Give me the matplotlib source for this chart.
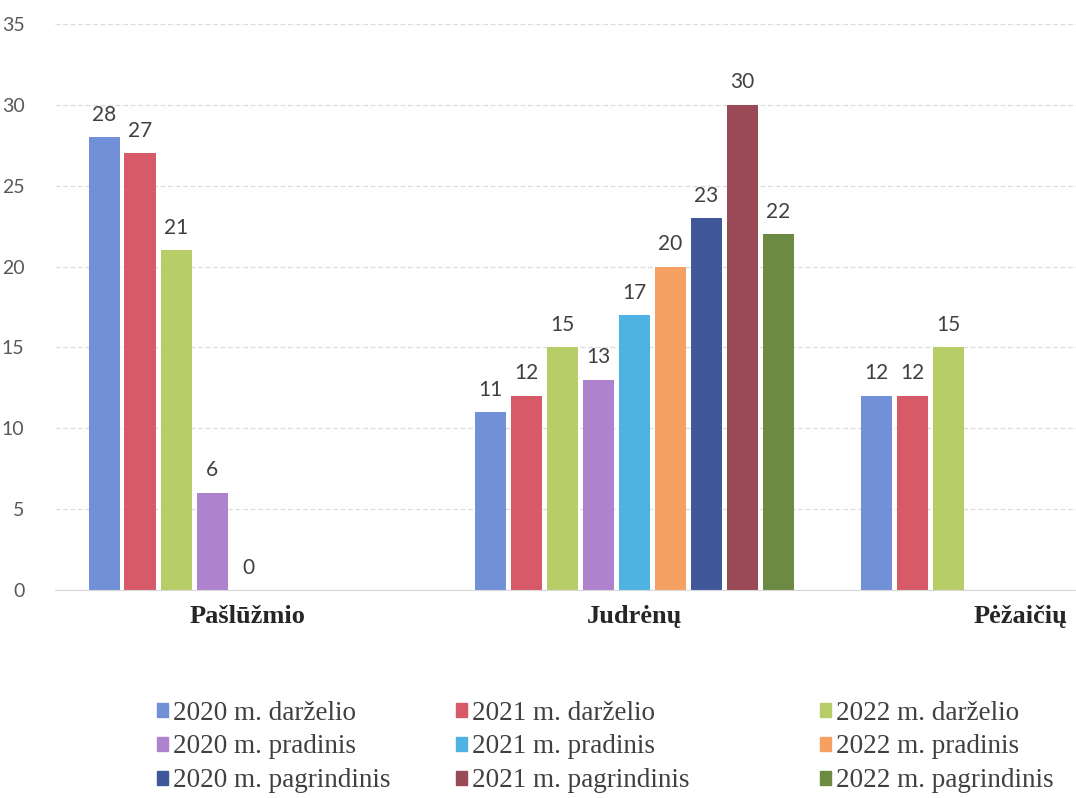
import numpy as np
import matplotlib.pyplot as plt
from matplotlib.patches import Patch

# data
villages = ['Pašlūžmio', 'Judrėnų', 'Pėžaičių']
series = ['2020 m. darželio', '2021 m. darželio', '2022 m. darželio',
          '2020 m. pradinis', '2021 m. pradinis', '2022 m. pradinis',
          '2020 m. pagrindinis', '2021 m. pagrindinis', '2022 m. pagrindinis']
colors = ['#7190d8', '#d65a68', '#b6cd68',
          '#ae82cc', '#4eb2e2', '#f6a064',
          '#40589a', '#994a56', '#6d8a42']
nan = np.nan
d2020_darz = [28, 11, 12]
d2021_darz = [27, 12, 12]
d2022_darz = [21, 15, 15]
d2020_prad = [6, 13, nan]
d2021_prad = [0, 17, nan]
d2022_prad = [nan, 20, nan]
d2020_pagr = [nan, 23, nan]
d2021_pagr = [nan, 30, nan]
d2022_pagr = [nan, 22, nan]
values = [d2020_darz, d2021_darz, d2022_darz,
          d2020_prad, d2021_prad, d2022_prad,
          d2020_pagr, d2021_pagr, d2022_pagr]

W, H = 1076, 798
fig = plt.figure(figsize=(W / 100, H / 100), dpi=100)
# axes runs past the right edge, as in the cropped scan
ax = fig.add_axes([55 / W, (H - 590) / H, 1158 / W, 566 / H])

x = np.arange(len(villages))
slot = 36 / 386
bw = 31 / 386
for i, (name, vals, c) in enumerate(zip(series, values, colors)):
    pos = x - 4 * slot + i * slot
    v = np.array(vals, dtype=float)
    ax.bar(pos, np.nan_to_num(v), bw, color=c, label=name)
    for p, val in zip(pos, v):
        if not np.isnan(val):
            ax.annotate(f'{int(val)}', (p, val), xytext=(0, 9), textcoords='offset points',
                        ha='center', va='bottom', fontsize=15, color='#404040',
                        family=['Lato', 'DejaVu Sans'])

ax.set_xlim(-0.5, 2.5)
ax.set_ylim(0, 35)
ax.set_yticks(range(0, 36, 5))
ax.set_xticks(x)
ax.set_xticklabels(villages, fontsize=19, fontweight='bold', color='#262626',
                   family='Liberation Serif')
ax.tick_params(axis='x', length=0, pad=11)
ax.tick_params(axis='y', length=0, pad=22, labelsize=14, labelcolor='#595959')
for t in ax.get_yticklabels():
    t.set_family(['Lato', 'DejaVu Sans'])
ax.grid(axis='y', color='#dcdcdc', linewidth=0.9, linestyle=(0, (4, 2)))
ax.set_axisbelow(True)
for s in ['top', 'right', 'left']:
    ax.spines[s].set_visible(False)
ax.spines['bottom'].set_color('#d8d8d8')

# legend: three columns placed by hand
col_x = [143, 442, 806]
for k in range(3):
    idx = [k, k + 3, k + 6]
    handles = [Patch(color=colors[j]) for j in idx]
    fig.legend(handles, [series[j] for j in idx], loc='upper left',
               bbox_to_anchor=(col_x[k] / W, 1 - 687 / H), frameon=False,
               borderpad=0, handlelength=0.42, handleheight=0.42, handletextpad=0.2,
               labelspacing=0.33, prop={'family': 'Liberation Serif', 'size': 19.5},
               labelcolor='#404040')

plt.savefig('out.png', dpi=100)
